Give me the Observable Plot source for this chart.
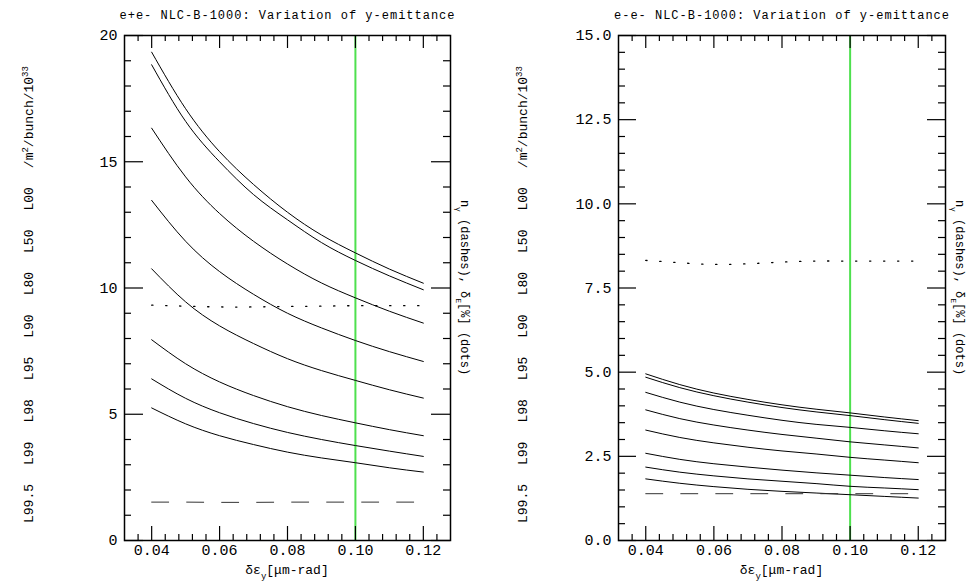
<!DOCTYPE html>
<html><head><meta charset="utf-8">
<script src="https://cdn.jsdelivr.net/npm/d3@7"></script>
<script src="https://cdn.jsdelivr.net/npm/@observablehq/plot@0.6"></script>
<style>
html,body{margin:0;padding:0;background:#fff;}
#wrap{position:relative;width:971px;height:583px;overflow:hidden;background:#fff;}
#wrap svg{position:absolute;top:0;}
#wrap svg text{font-family:"Liberation Mono","DejaVu Sans Mono",monospace;}
</style></head><body><div id="wrap"></div>
<script>
// ---- data ----
const xs = [0.04, 0.05, 0.06, 0.07, 0.08, 0.09, 0.10, 0.11, 0.12];
const lumLabels = ["L99.5", "L99", "L98", "L95", "L90", "L80", "L50", "L00"];
const xMajor = [0.04, 0.06, 0.08, 0.10, 0.12];
const xMinor = [0.036, 0.044, 0.048, 0.052, 0.056, 0.064, 0.068, 0.072, 0.076, 0.084, 0.088, 0.092, 0.096, 0.104, 0.108, 0.112, 0.116, 0.124];
const refEmittance = 0.10;

// left panel (e+e-)
const leftTitle = "e+e- NLC-B-1000: Variation of y-emittance";
const leftYMajor = [0, 5, 10, 15, 20];
const leftYMinor = [1, 2, 3, 4, 6, 7, 8, 9, 11, 12, 13, 14, 16, 17, 18, 19];
const left_L00  = [19.34, 17.10, 15.40, 14.10, 13.00, 12.10, 11.39, 10.75, 10.19];
const left_L50  = [18.84, 16.60, 15.00, 13.70, 12.70, 11.80, 11.09, 10.48, 9.93];
const left_L80  = [16.33, 14.40, 12.95, 11.85, 10.95, 10.20, 9.61, 9.08, 8.61];
const left_L90  = [13.47, 11.85, 10.65, 9.75, 9.00, 8.42, 7.92, 7.48, 7.09];
const left_L95  = [10.76, 9.45, 8.50, 7.80, 7.20, 6.73, 6.34, 5.97, 5.64];
const left_L98  = [7.95, 7.00, 6.28, 5.74, 5.30, 4.95, 4.66, 4.39, 4.15];
const left_L99  = [6.40, 5.63, 5.06, 4.63, 4.28, 4.00, 3.76, 3.54, 3.33];
const left_L995 = [5.25, 4.62, 4.15, 3.80, 3.50, 3.27, 3.08, 2.88, 2.71];
const left_ngamma = [1.52, 1.52, 1.51, 1.51, 1.52, 1.52, 1.52, 1.52, 1.52];
const left_deltaE = [9.32, 9.28, 9.25, 9.25, 9.27, 9.28, 9.30, 9.30, 9.30];

// right panel (e-e-)
const rightTitle = "e-e- NLC-B-1000: Variation of y-emittance";
const rightYMajor = [0, 2.5, 5, 7.5, 10, 12.5, 15];
const rightYMinor = [0.5, 1, 1.5, 2, 3, 3.5, 4, 4.5, 5.5, 6, 6.5, 7, 8, 8.5, 9, 9.5, 10.5, 11, 11.5, 12, 13, 13.5, 14, 14.5];
const right_L00  = [4.95, 4.63, 4.38, 4.19, 4.03, 3.90, 3.79, 3.67, 3.56];
const right_L50  = [4.85, 4.54, 4.30, 4.11, 3.95, 3.82, 3.71, 3.59, 3.48];
const right_L80  = [4.40, 4.11, 3.89, 3.72, 3.57, 3.45, 3.36, 3.26, 3.17];
const right_L90  = [3.88, 3.62, 3.43, 3.28, 3.15, 3.04, 2.93, 2.84, 2.75];
const right_L95  = [3.28, 3.06, 2.90, 2.77, 2.66, 2.57, 2.47, 2.39, 2.31];
const right_L98  = [2.59, 2.41, 2.28, 2.18, 2.09, 2.01, 1.94, 1.87, 1.81];
const right_L99  = [2.18, 2.03, 1.92, 1.83, 1.76, 1.69, 1.61, 1.56, 1.51];
const right_L995 = [1.83, 1.70, 1.60, 1.52, 1.46, 1.41, 1.36, 1.31, 1.26];
const right_ngamma = [1.39, 1.39, 1.39, 1.39, 1.39, 1.39, 1.39, 1.39, 1.39];
const right_deltaE = [8.32, 8.25, 8.20, 8.22, 8.27, 8.30, 8.30, 8.30, 8.30];

// ---- drawing ----
const FONT = '"Liberation Mono","DejaVu Sans Mono",monospace';
const W = 485, H = 583;
const wrap = document.getElementById("wrap");

function panel({left, mL, mR, title, yDomain, yMajor, yMinor, yFmt, curves, ngamma, deltaE, yMajorLen}) {
  const mT = 35, mB = 43;
  const innerW = W - mL - mR, innerH = H - mT - mB;
  const lineData = curves.flatMap((vals, k) => xs.map((x, j) => ({x, y: vals[j], k})));
  const dashData = xs.map((x, j) => ({x, y: ngamma[j]}));
  const dotData = xs.map((x, j) => ({x, y: deltaE[j]}));
  const svg = Plot.plot({
    width: W, height: H,
    marginLeft: mL, marginRight: mR, marginTop: mT, marginBottom: mB,
    x: {domain: [0.032, 0.128], axis: null},
    y: {domain: yDomain, axis: null},
    style: {fontFamily: FONT, background: "white", overflow: "visible"},
    marks: [
      Plot.ruleX([refEmittance], {x: d => d, stroke: "#4ee04e", strokeWidth: 2}),
      Plot.line(lineData, {x: "x", y: "y", z: "k", stroke: "black", strokeWidth: 1, curve: "natural"}),
      Plot.line(dashData, {x: "x", y: "y", stroke: "#333", strokeWidth: 1, strokeDasharray: "17,18"}),
      Plot.line(dotData, {x: "x", y: "y", stroke: "black", strokeWidth: 1.3, strokeDasharray: "1.3,12.7", curve: "natural"}),
      Plot.frame({stroke: "black", strokeWidth: 1.5}),
      // x ticks (inward, bottom and top)
      Plot.tickX(xMajor, {x: d => d, insetTop: innerH - 14, stroke: "black", strokeWidth: 1.2}),
      Plot.tickX(xMajor, {x: d => d, insetBottom: innerH - 13, stroke: "black", strokeWidth: 1.2}),
      Plot.tickX(xMinor, {x: d => d, insetTop: innerH - 6, stroke: "black", strokeWidth: 1.2}),
      Plot.tickX(xMinor, {x: d => d, insetBottom: innerH - 6, stroke: "black", strokeWidth: 1.2}),
      // y ticks (inward, left and right)
      Plot.tickY(yMajor, {y: d => d, insetRight: innerW - yMajorLen, stroke: "black", strokeWidth: 1.2}),
      Plot.tickY(yMajor, {y: d => d, insetLeft: innerW - yMajorLen, stroke: "black", strokeWidth: 1.2}),
      Plot.tickY(yMinor, {y: d => d, insetRight: innerW - 7, stroke: "black", strokeWidth: 1.2}),
      Plot.tickY(yMinor, {y: d => d, insetLeft: innerW - 7, stroke: "black", strokeWidth: 1.2}),
      // tick labels
      Plot.text(xMajor, {x: d => d, text: d => d.toFixed(2), frameAnchor: "bottom", dy: 14, fontSize: 15, fontFamily: FONT, fill: "black"}),
      Plot.text(yMajor, {y: d => d, text: yFmt, frameAnchor: "left", textAnchor: "end", dx: -7, fontSize: 15, fontFamily: FONT, fill: "black"})
    ]
  });
  svg.style.left = left + "px";
  wrap.appendChild(svg);
  const s = d3.select(svg);
  const cx = mL + innerW / 2;
  // title
  s.append("text").attr("x", cx).attr("y", 16)
    .attr("text-anchor", "middle").attr("dominant-baseline", "middle")
    .attr("font-size", 12).attr("textLength", 335).attr("lengthAdjust", "spacing")
    .attr("fill", "black")
    .text(title);
  // x label
  const xl = s.append("text").attr("x", cx).attr("y", 574).attr("text-anchor", "middle")
    .attr("font-size", 13).attr("fill", "black");
  xl.append("tspan").text("δε");
  xl.append("tspan").attr("baseline-shift", "sub").attr("font-size", 9).text("y");
  xl.append("tspan").text("[μm-rad]");
  // left rotated luminosity labels
  const colX = mL - 91;
  const g = s.append("g").attr("font-size", 13).attr("fill", "black").attr("text-anchor", "start");
  let cursor = 523;
  for (const lab of lumLabels) {
    const t = g.append("text").attr("text-anchor", "start")
      .attr("transform", `translate(${colX},${cursor}) rotate(-90)`).text(lab);
    cursor -= t.node().getComputedTextLength() + 19;
  }
  const u = g.append("text").attr("text-anchor", "start")
    .attr("transform", `translate(${colX},${cursor}) rotate(-90)`);
  u.append("tspan").text("/m");
  u.append("tspan").attr("baseline-shift", "super").attr("font-size", 9).text("2");
  u.append("tspan").attr("baseline-shift", "0").text("/bunch/10");
  u.append("tspan").attr("baseline-shift", "super").attr("font-size", 9).text("33");
  // right rotated label
  const rx = W - mR + 11;
  const r = s.append("text").attr("transform", `translate(${rx},${mT + innerH / 2}) rotate(90)`)
    .attr("text-anchor", "middle").attr("font-size", 12).attr("fill", "black");
  r.append("tspan").text("n");
  r.append("tspan").attr("baseline-shift", "sub").attr("font-size", 8).text("γ");
  r.append("tspan").text(" (dashes), δ");
  r.append("tspan").attr("baseline-shift", "sub").attr("font-size", 8).text("E");
  r.append("tspan").text("[%] (dots)");
}

panel({
  left: 0, mL: 124, mR: 35, title: leftTitle,
  yDomain: [0, 20], yMajor: leftYMajor, yMinor: leftYMinor, yFmt: d => String(d),
  curves: [left_L00, left_L50, left_L80, left_L90, left_L95, left_L98, left_L99, left_L995],
  ngamma: left_ngamma, deltaE: left_deltaE, yMajorLen: 19
});
panel({
  left: 486, mL: 132, mR: 26, title: rightTitle,
  yDomain: [0, 15], yMajor: rightYMajor, yMinor: rightYMinor, yFmt: d => d.toFixed(1),
  curves: [right_L00, right_L50, right_L80, right_L90, right_L95, right_L98, right_L99, right_L995],
  ngamma: right_ngamma, deltaE: right_deltaE, yMajorLen: 18
});
</script>
</body></html>
